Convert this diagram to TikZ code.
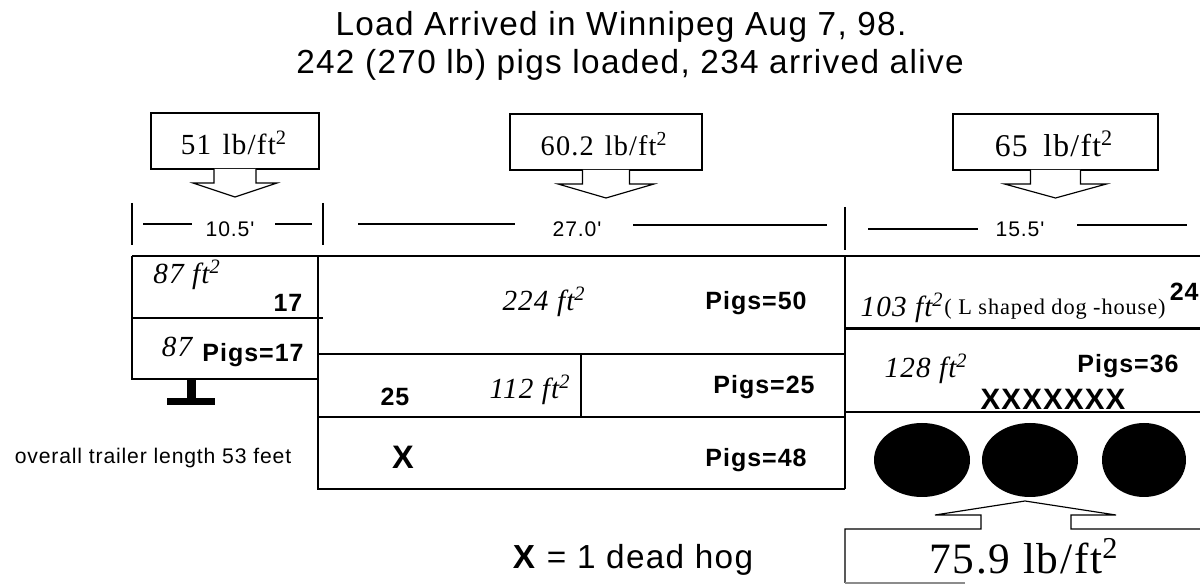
\documentclass[tikz,border=0pt]{standalone}
\usepackage{fontspec}
\usepackage{tikz}
\setmainfont{Liberation Serif}
\setsansfont{Liberation Sans}
\newfontfamily\spacedsans[LetterSpace=4]{Liberation Sans}
\newfontfamily\spacedserif[LetterSpace=4]{Liberation Serif}
\tikzset{
  trailerline/.style={line width=1.1pt},
  thinline/.style={line width=0.7pt},
  titletext/.style={font=\fontsize{20}{23}\selectfont\spacedsans,inner sep=0pt},
  loadtext/.style={font=\fontsize{#1}{20}\selectfont\spacedserif,inner sep=0pt},
  areatext/.style={font=\fontsize{17.5}{19}\selectfont\spacedserif\itshape,inner sep=0pt},
  pigtext/.style={font=\fontsize{15}{17}\selectfont\bfseries\spacedsans,inner sep=0pt},
  dimtext/.style={font=\fontsize{12.7}{15}\selectfont\spacedsans,inner sep=0pt},
}
\newcommand{\loadcallout}[5]{%
  % #1 left, #2 right, #3 top, #4 stem, #5 head
  \pgfmathsetmacro{\midx}{(#1+#2)/2}
  \draw[thinline] (#1,#3) rectangle (#2,#3+56);
  \draw[thinline,fill=white] (\midx-#4,#3+56)--(\midx-#4,#3+70)--(\midx-#5,#3+70)--(\midx,#3+84)
    --(\midx+#5,#3+70)--(\midx+#4,#3+70)--(\midx+#4,#3+56);
}
\begin{document}
\begin{tikzpicture}[x=0.6pt,y=-0.6pt]
  \useasboundingbox (0,0) rectangle (1200,584);
  \node[titletext] (title) at (621,27) {Load Arrived in Winnipeg Aug 7, 98.};
  \node[titletext] (subtitle) at (630,65) {242 (270 lb) pigs loaded, 234 arrived alive};
  % load boxes on top
  \loadcallout{151}{319}{113}{21}{42}
  \node[loadtext=17.5] (loadnose) at (234,143) {51\hspace{.1em} lb/ft\textsuperscript{2}};
  \loadcallout{510}{702}{114}{23.5}{48}
  \node[loadtext=17] (loadbelly) at (604,144) {60.2\hspace{.1em} lb/ft\textsuperscript{2}};
  \loadcallout{953}{1158}{114}{25}{51}
  \node[loadtext=19] (loadrear) at (1054,144) {65\hspace{.2em} lb/ft\textsuperscript{2}};
  % dimension lines
  \draw[trailerline] (132,203)--(132,245);
  \draw[trailerline] (323,203)--(323,245);
  \draw[trailerline] (845,207)--(845,250);
  \draw[thinline] (143,224)--(192,224);
  \draw[thinline] (275,224)--(312,224);
  \draw[thinline] (358,224)--(515,224);
  \draw[thinline] (633,225)--(827,225);
  \draw[thinline] (868,229)--(978,229);
  \draw[thinline] (1077,225)--(1187,225);
  \node[dimtext] (dimnose) at (230,229) {10.5'};
  \node[dimtext] (dimbelly) at (577,229) {27.0'};
  \node[dimtext] (dimrear) at (1020,229) {15.5'};
  % trailer outline
  \draw[trailerline] (132,256)--(1200,256);
  \draw[trailerline] (132,256)--(132,379)--(318,379);
  \draw[trailerline] (318,256)--(318,489)--(845,489);
  \draw[trailerline] (845,256)--(845,489);
  \draw[trailerline] (132,318)--(323,318);
  \draw[trailerline] (318,354)--(845,354);
  \draw[trailerline] (318,417)--(845,417);
  \draw[thinline] (581,354)--(581,417);
  \draw[line width=1.8pt] (845,329)--(1200,329);
  \draw[thinline] (845,412)--(1200,412);
  % landing gear
  \fill (187,379) rectangle (196,400);
  \fill (167,398) rectangle (215,405);
  % wheels
  \fill (922,460) ellipse (48 and 37);
  \fill (1030,460) ellipse (48 and 37);
  \fill (1144,460) ellipse (42 and 37);
  % load box below
  \draw[thinline] (845,583)--(845,529)--(981,529)--(981,515)--(935,515)--(1025,501)
    --(1116,515)--(1071,515)--(1071,529)--(1200,529);
  \draw[thinline,black!45] (845,583)--(965,583);
  \node[loadtext=26] (loadaxle) at (1024,556) {75.9 lb/ft\textsuperscript{2}};
  % deck labels
  \node[areatext] (areaa) at (187,275) {87 ft\textsuperscript{2}};
  \node[pigtext] (pigsa) at (288,303) {17};
  \node[areatext] (areab) at (177,347) {87};
  \node[pigtext] (pigsb) at (253,355) {Pigs=17};
  \node[areatext] (areac) at (544,302) {224 ft\textsuperscript{2}};
  \node[pigtext] (pigsc) at (756,303) {Pigs=50};
  \node[pigtext] (pigsd) at (395,397) {25};
  \node[areatext] (aread) at (530,390) {112 ft\textsuperscript{2}};
  \node[pigtext] (pigse) at (764,387) {Pigs=25};
  \node[pigtext,font=\fontsize{19.5}{21}\selectfont\bfseries\sffamily] (deadx) at (403,457) {X};
  \node[pigtext] (pigsf) at (756,460) {Pigs=48};
  \node[areatext] (areaf) at (902,308) {103 ft\textsuperscript{2}};
  \node[font=\fontsize{13.4}{15}\selectfont\spacedserif,inner sep=0pt] (doghouse) at (1055,309) {( L shaped dog -house)};
  \node[pigtext,anchor=east] (pigsg) at (1199,292) {24};
  \node[areatext] (areah) at (926,369) {128 ft\textsuperscript{2}};
  \node[pigtext] (pigsh) at (1128,366) {Pigs=36};
  \node[pigtext,font=\fontsize{17.7}{19}\selectfont\bfseries\spacedsans] (deadrow) at (1053,399) {XXXXXXX};
  \node[dimtext] (overall) at (153,458) {overall trailer length 53 feet};
  \node[font=\fontsize{20}{22}\selectfont\spacedsans,inner sep=0pt] (legend) at (633,560) {\textbf{X} = 1 dead hog};
\end{tikzpicture}
\end{document}
